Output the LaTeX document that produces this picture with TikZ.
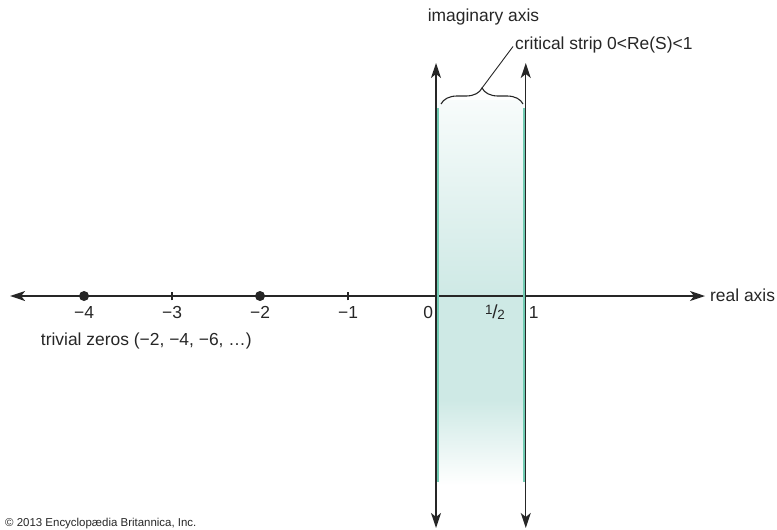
\documentclass[tikz,border=0pt]{standalone}
\usepackage{fontspec}
\setmainfont{Liberation Sans}
\usetikzlibrary{arrows.meta,positioning,decorations.pathreplacing,calc}
\definecolor{stripteal}{RGB}{206,233,229}
\definecolor{edgeteal}{RGB}{112,202,178}
\definecolor{inkgray}{RGB}{38,38,38}

\tikzset{
  axisline/.style={line width=1.4bp, inkgray,
    {Stealth[length=15bp,width=10bp,inset=4bp]}-{Stealth[length=15bp,width=10bp,inset=4bp]}},
  zerodot/.style={circle, fill=inkgray, inner sep=0pt, minimum size=10bp},
  tickmark/.style={line width=1.2bp, inkgray},
}
\newcommand{\halfmark}{\raisebox{4bp}{\fontsize{13.5}{14}\selectfont 1}\kern-0.3bp{\fontsize{19}{20}\selectfont /}\kern-0.3bp\raisebox{-1bp}{\fontsize{13.5}{14}\selectfont 2}}

\begin{document}
\begin{tikzpicture}[x=88bp, y=88bp, every node/.style={font=\fontsize{17.5}{21}\selectfont, text=inkgray}]
  \useasboundingbox (-4.955,-2.659) rectangle (3.875,3.364);

  % the strip
  \shade[top color=stripteal!15, bottom color=stripteal] (0.01,0) rectangle (1.01,2.22);
  \fill[stripteal] (0.01,-1.18) rectangle (1.01,0);
  \shade[top color=stripteal, bottom color=white] (0.01,-2.15) rectangle (1.01,-1.18);

  % axes
  \coordinate (realL) at (-4.84,0);
  \coordinate (realR) at (3.057,0);
  \coordinate (zeroB) at (0,-2.636);
  \coordinate (zeroT) at (0,2.648);
  \coordinate (oneB) at (1.02,-2.636);
  \coordinate (oneT) at (1.02,2.648);
  \draw[axisline] (realL) -- (realR);
  \draw[axisline] (zeroB) -- (zeroT);
  \draw[axisline] (oneB) -- (oneT);
  \draw[edgeteal, line width=2bp] (0.018,-2.11) -- (0.018,2.136);
  \draw[edgeteal, line width=2bp] (1.003,-2.11) -- (1.003,2.136);

  \foreach \k in {-3,-1}
    \draw[tickmark] (\k,-0.05) -- (\k,0.05);
  \foreach \k in {-4,-2}
    \node[zerodot] (zero\k) at (\k,0) {};
  \foreach \k in {-4,-3,-2,-1}
    \node[anchor=base] (lab\k) at (\k,-0.25) {−\the\numexpr-\k\relax};
  \node[anchor=base] (labzero) at (-0.09,-0.26) {0};
  \node[anchor=base] (labhalf) at (0.67,-0.25) {\halfmark};
  \node[anchor=base] (labone) at (1.11,-0.26) {1};

  \node[anchor=base west, inner sep=2bp] (realaxis) at (3.09,-0.068) {real axis};
  \node[anchor=base] (imagaxis) at (0.54,3.114) {imaginary axis};
  \node[anchor=base west] (trivial) at (-4.53,-0.568) {trivial zeros (−2, −4, −6, …)};

  % brace over the strip
  \draw[inkgray, line width=1.1bp, decorate, decoration={brace, amplitude=16bp}]
    (0.057,2.182) -- (0.989,2.182);
  \coordinate (bracetip) at (0.523,2.364);
  \node[anchor=base west, inner sep=2bp] (critstrip) at (0.875,2.807) {critical strip 0<Re(S)<1};
  \draw[inkgray, line width=0.9bp] (bracetip) -- ([yshift=-2bp]critstrip.west);

  \node[anchor=base west, inner sep=0pt, font=\fontsize{11.5}{13}\selectfont] (credit)
    at (-4.898,-2.615) {© 2013 Encyclopædia Britannica, Inc.};
\end{tikzpicture}
\end{document}
